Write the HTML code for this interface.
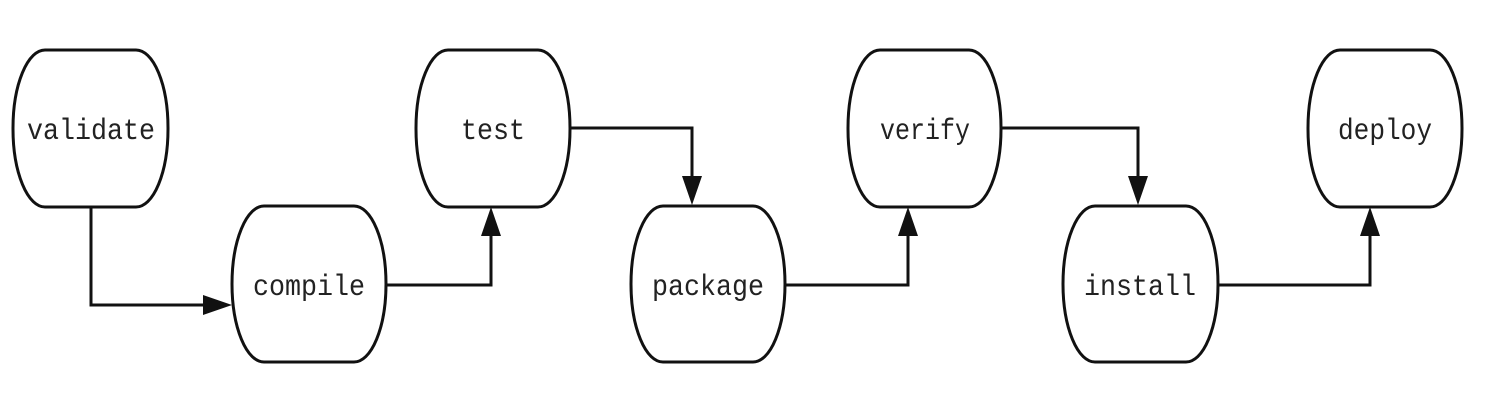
<!DOCTYPE html>
<html><head><style>body{margin:0;background:#fff}svg{display:block}</style></head><body>
<svg width="1504" height="401" viewBox="0 0 1504 401" xmlns="http://www.w3.org/2000/svg">
<g fill="#fff" stroke="#111" stroke-width="3">
<rect x="13" y="50" width="155" height="157" rx="32" ry="78"/>
<rect x="232" y="206" width="154" height="156" rx="32" ry="78"/>
<rect x="416" y="50" width="154" height="157" rx="32" ry="78"/>
<rect x="631" y="206" width="154" height="156" rx="32" ry="78"/>
<rect x="848" y="50" width="153" height="157" rx="32" ry="78"/>
<rect x="1063" y="206" width="155" height="156" rx="32" ry="78"/>
<rect x="1308" y="50" width="154" height="157" rx="32" ry="78"/>
</g>
<g fill="none" stroke="#111" stroke-width="3">
<path d="M91,207 V305 H212"/>
<path d="M386,285 H491 V228"/>
<path d="M570,128 H692 V185"/>
<path d="M785,285 H908 V228"/>
<path d="M1001,128 H1138 V185"/>
<path d="M1218,285 H1370 V228"/>
</g>
<g fill="#111">
<path d="M232,305 L203,295 L203,315 z"/>
<path d="M491,207 L481,236 L501,236 z"/>
<path d="M692,205 L682,176 L702,176 z"/>
<path d="M908,207 L898,236 L918,236 z"/>
<path d="M1138,205 L1128,176 L1148,176 z"/>
<path d="M1370,207 L1360,236 L1380,236 z"/>
</g>
<g font-family="Liberation Mono, monospace" font-size="30" fill="#222" text-anchor="middle" transform="scale(1,1)">
<text x="91" y="139" textLength="128" lengthAdjust="spacingAndGlyphs">validate</text>
<text x="309" y="295" textLength="112" lengthAdjust="spacingAndGlyphs">compile</text>
<text x="493" y="139" textLength="64" lengthAdjust="spacingAndGlyphs">test</text>
<text x="708" y="295" textLength="112" lengthAdjust="spacingAndGlyphs">package</text>
<text x="925" y="139" textLength="90" lengthAdjust="spacingAndGlyphs">verify</text>
<text x="1140" y="295" textLength="112" lengthAdjust="spacingAndGlyphs">install</text>
<text x="1385" y="139" textLength="94" lengthAdjust="spacingAndGlyphs">deploy</text>
</g>
</svg>
</body></html>
